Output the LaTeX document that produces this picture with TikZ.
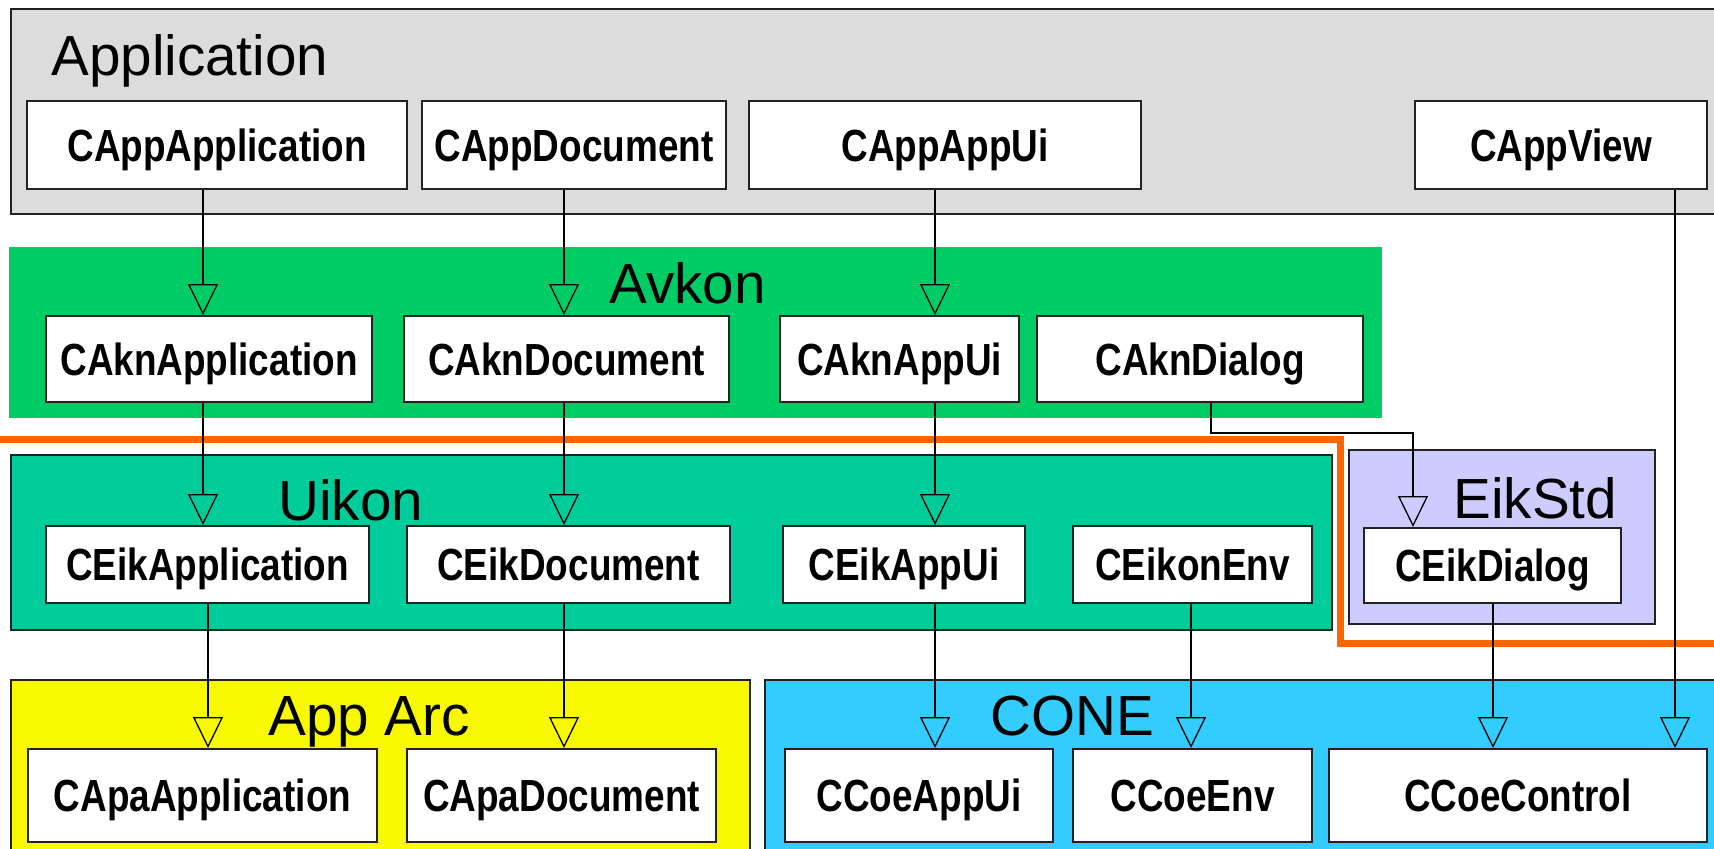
\documentclass[tikz,border=0pt]{standalone}
\usepackage{fontspec}
\setmainfont{Liberation Sans}
\newfontfamily\narrowfont[FakeStretch=0.82]{Liberation Sans}
\usetikzlibrary{arrows.meta}

\definecolor{appgray}{HTML}{DCDCDC}
\definecolor{avkongreen}{HTML}{00CC66}
\definecolor{uikongreen}{HTML}{00CC99}
\definecolor{eikstdlilac}{HTML}{CCCCFF}
\definecolor{apparcyellow}{HTML}{F8F800}
\definecolor{coneblue}{HTML}{33CCFF}
\definecolor{layerorange}{HTML}{FF6600}
\definecolor{edge}{HTML}{222222}

% class box given by its corners: name, x1, y1, x2, y2, label
\newcommand\classbox[6]{%
  \node[cls, minimum width={(#4-#2)*0.5pt}, minimum height={(#5-#3)*0.5pt}]
    (#1) at ({(#2+#4)/2},{(#3+#5)/2}) {#6};}

\begin{document}
\begin{tikzpicture}[x=0.5pt,y=-0.5pt,
  cls/.style={draw=edge, line width=1pt, fill=white, inner sep=0pt,
    font=\narrowfont\bfseries\fontsize{22.5}{27}\selectfont,
    text height=16.1pt, text depth=0pt},
  grp/.style={draw=edge, line width=1pt},
  grouptitle/.style={anchor=base west, inner sep=0pt,
    font=\fontsize{28.3}{34}\selectfont},
  inh/.style={line width=0.65pt, draw=black,
    -{Triangle[open, length=15.5pt, width=15pt]}},
]
\useasboundingbox (0,0) rectangle (1714,848);

% layer backgrounds
\draw[grp, fill=appgray] (11,9) rectangle (1740,214);
\fill[avkongreen] (9,247) rectangle (1382,418);
\draw[grp, fill=uikongreen] (11,455) rectangle (1332,630);
\draw[grp, fill=eikstdlilac] (1349,450) rectangle (1655,624);
\draw[grp, fill=apparcyellow] (11,680) rectangle (750,870);
\draw[grp, fill=coneblue] (765,680) rectangle (1740,870);

% platform boundary
\draw[layerorange, line width=3.5pt] (-10,439) -- (1340,439) -- (1340,643) -- (1740,643);

% layer titles
\node[grouptitle] (tApp) at (51,75) {Application};
\node[grouptitle] (tAvkon) at (609,303) {Avkon};
\node[grouptitle] (tUikon) at (278,520) {Uikon};
\node[grouptitle] (tEikStd) at (1453,518) {EikStd};
\node[grouptitle] (tAppArc) at (268,735) {App Arc};
\node[grouptitle] (tCone) at (990,735) {CONE};

% classes
\classbox{appApp}{27}{101}{407}{189}{CAppApplication}
\classbox{appDoc}{422}{101}{726}{189}{CAppDocument}
\classbox{appUi}{749}{101}{1141}{189}{CAppAppUi}
\classbox{appView}{1415}{101}{1707}{189}{CAppView}

\classbox{aknApp}{46}{316}{372}{402}{CAknApplication}
\classbox{aknDoc}{404}{316}{729}{402}{CAknDocument}
\classbox{aknUi}{780}{316}{1019}{402}{CAknAppUi}
\classbox{aknDlg}{1037}{316}{1363}{402}{CAknDialog}

\classbox{eikApp}{46}{526}{369}{603}{CEikApplication}
\classbox{eikDoc}{407}{526}{730}{603}{CEikDocument}
\classbox{eikUi}{783}{526}{1025}{603}{CEikAppUi}
\classbox{eikEnv}{1073}{526}{1312}{603}{CEikonEnv}
\classbox{eikDlg}{1364}{528}{1621}{603}{CEikDialog}

\classbox{apaApp}{28}{749}{377}{842}{CApaApplication}
\classbox{apaDoc}{407}{749}{716}{842}{CApaDocument}

\classbox{coeUi}{785}{749}{1053}{842}{CCoeAppUi}
\classbox{coeEnv}{1073}{749}{1312}{842}{CCoeEnv}
\classbox{coeCtl}{1329}{749}{1707}{842}{CCoeControl}

% columns of the inheritance lines
\coordinate (xApp) at (203,0);
\coordinate (xApa) at (208,0);
\coordinate (xDoc) at (564,0);
\coordinate (xUi) at (935,0);
\coordinate (xAknDlg) at (1211,0);
\coordinate (dlgBend) at (1413,433);
\coordinate (xEnv) at (1191,0);
\coordinate (xEikDlg) at (1493,0);
\coordinate (xView) at (1675,0);

% inheritance
\draw[inh] (appApp.south -| xApp) -- (aknApp.north -| xApp);
\draw[inh] (appDoc.south -| xDoc) -- (aknDoc.north -| xDoc);
\draw[inh] (appUi.south -| xUi) -- (aknUi.north -| xUi);

\draw[inh] (aknApp.south -| xApp) -- (eikApp.north -| xApp);
\draw[inh] (aknDoc.south -| xDoc) -- (eikDoc.north -| xDoc);
\draw[inh] (aknUi.south -| xUi) -- (eikUi.north -| xUi);
\draw[inh] (aknDlg.south -| xAknDlg) |- (dlgBend) -- (eikDlg.north -| dlgBend);

\draw[inh] (eikApp.south -| xApa) -- (apaApp.north -| xApa);
\draw[inh] (eikDoc.south -| xDoc) -- (apaDoc.north -| xDoc);
\draw[inh] (eikUi.south -| xUi) -- (coeUi.north -| xUi);
\draw[inh] (eikEnv.south -| xEnv) -- (coeEnv.north -| xEnv);
\draw[inh] (eikDlg.south -| xEikDlg) -- (coeCtl.north -| xEikDlg);
\draw[inh] (appView.south -| xView) -- (coeCtl.north -| xView);
\end{tikzpicture}
\end{document}
